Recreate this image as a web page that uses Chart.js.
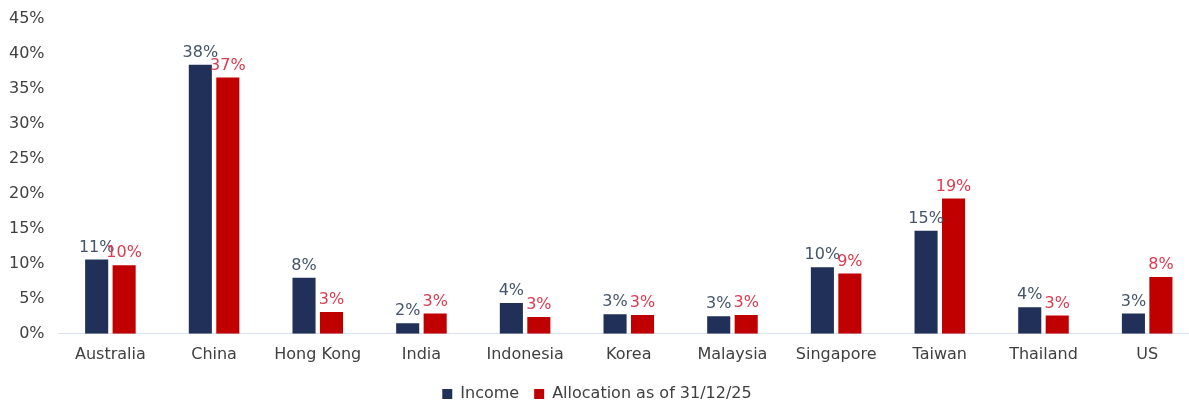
<!DOCTYPE html>
<html>
<head>
<meta charset="utf-8">
<script src="https://cdn.jsdelivr.net/npm/chart.js@4.4.1/dist/chart.umd.min.js"></script>
<style>
  html, body { margin: 0; padding: 0; background: #fff; overflow: hidden; }
  #wrap { position: absolute; left: -9px; top: -5px; width: 1208px; height: 417px; }
</style>
</head>
<body>
<div id="wrap"><canvas id="grafik" width="1208" height="417"></canvas></div>
<script>
const countries = ['Australia', 'China', 'Hong Kong', 'India', 'Indonesia', 'Korea', 'Malaysia', 'Singapore', 'Taiwan', 'Thailand', 'US'];
const income = [10.6, 38.4, 8.0, 1.5, 4.4, 2.8, 2.5, 9.5, 14.7, 3.8, 2.9];
const allocation = [9.8, 36.6, 3.1, 2.9, 2.4, 2.7, 2.7, 8.6, 19.3, 2.6, 8.1];
const incomeLabels = ['11%', '38%', '8%', '2%', '4%', '3%', '3%', '10%', '15%', '4%', '3%'];
const allocationLabels = ['10%', '37%', '3%', '3%', '3%', '3%', '3%', '9%', '19%', '3%', '8%'];

const fontFamily = "'DejaVu Sans', sans-serif";

// simple value labels above the bars
const barLabels = {
    id: 'barLabels',
    afterDatasetsDraw(chart) {
        const ctx = chart.ctx;
        ctx.save();
        ctx.font = '16px ' + fontFamily;
        ctx.textAlign = 'center';
        ctx.textBaseline = 'bottom';
        chart.data.datasets.forEach((ds, i) => {
            const meta = chart.getDatasetMeta(i);
            ctx.fillStyle = ds.labelColor;
            meta.data.forEach((bar, j) => {
                ctx.fillText(ds.labels[j], bar.x, bar.y - 4);
            });
        });
        ctx.restore();
    }
};

new Chart(document.getElementById('grafik'), {
    type: 'bar',
    data: {
        labels: countries,
        datasets: [{
            label: 'Income',
            data: income,
            labels: incomeLabels,
            labelColor: '#44546A',
            backgroundColor: '#203058',
            borderWidth: 0
        }, {
            label: 'Allocation as of 31/12/25',
            data: allocation,
            labels: allocationLabels,
            labelColor: '#DC3A50',
            backgroundColor: '#C00000',
            borderWidth: 0
        }]
    },
    options: {
        responsive: false,
        animation: false,
        categoryPercentage: 0.53,
        barPercentage: 0.84,
        layout: { padding: { left: 4, right: 0, top: 0, bottom: 0 } },
        plugins: {
            tooltip: { enabled: false },
            legend: {
                position: 'bottom',
                maxHeight: 46,
                labels: {
                    font: { family: fontFamily, size: 16 },
                    color: '#404040',
                    boxWidth: 10,
                    boxHeight: 10,
                    padding: 15
                }
            }
        },
        scales: {
            x: {
                grid: { display: false, drawTicks: false },
                border: { color: '#D9E1F2', width: 1 },
                ticks: {
                    font: { family: fontFamily, size: 16 },
                    color: '#404040',
                    padding: 11,
                    maxRotation: 0
                },
                afterFit(scale) { scale.height -= 4; }
            },
            y: {
                min: 0,
                max: 45,
                grid: { display: false, drawTicks: false },
                border: { display: false },
                ticks: {
                    stepSize: 5,
                    font: { family: fontFamily, size: 16 },
                    color: '#404040',
                    padding: 14,
                    callback: v => v + '%'
                }
            }
        }
    },
    plugins: [barLabels]
});
</script>
</body>
</html>
